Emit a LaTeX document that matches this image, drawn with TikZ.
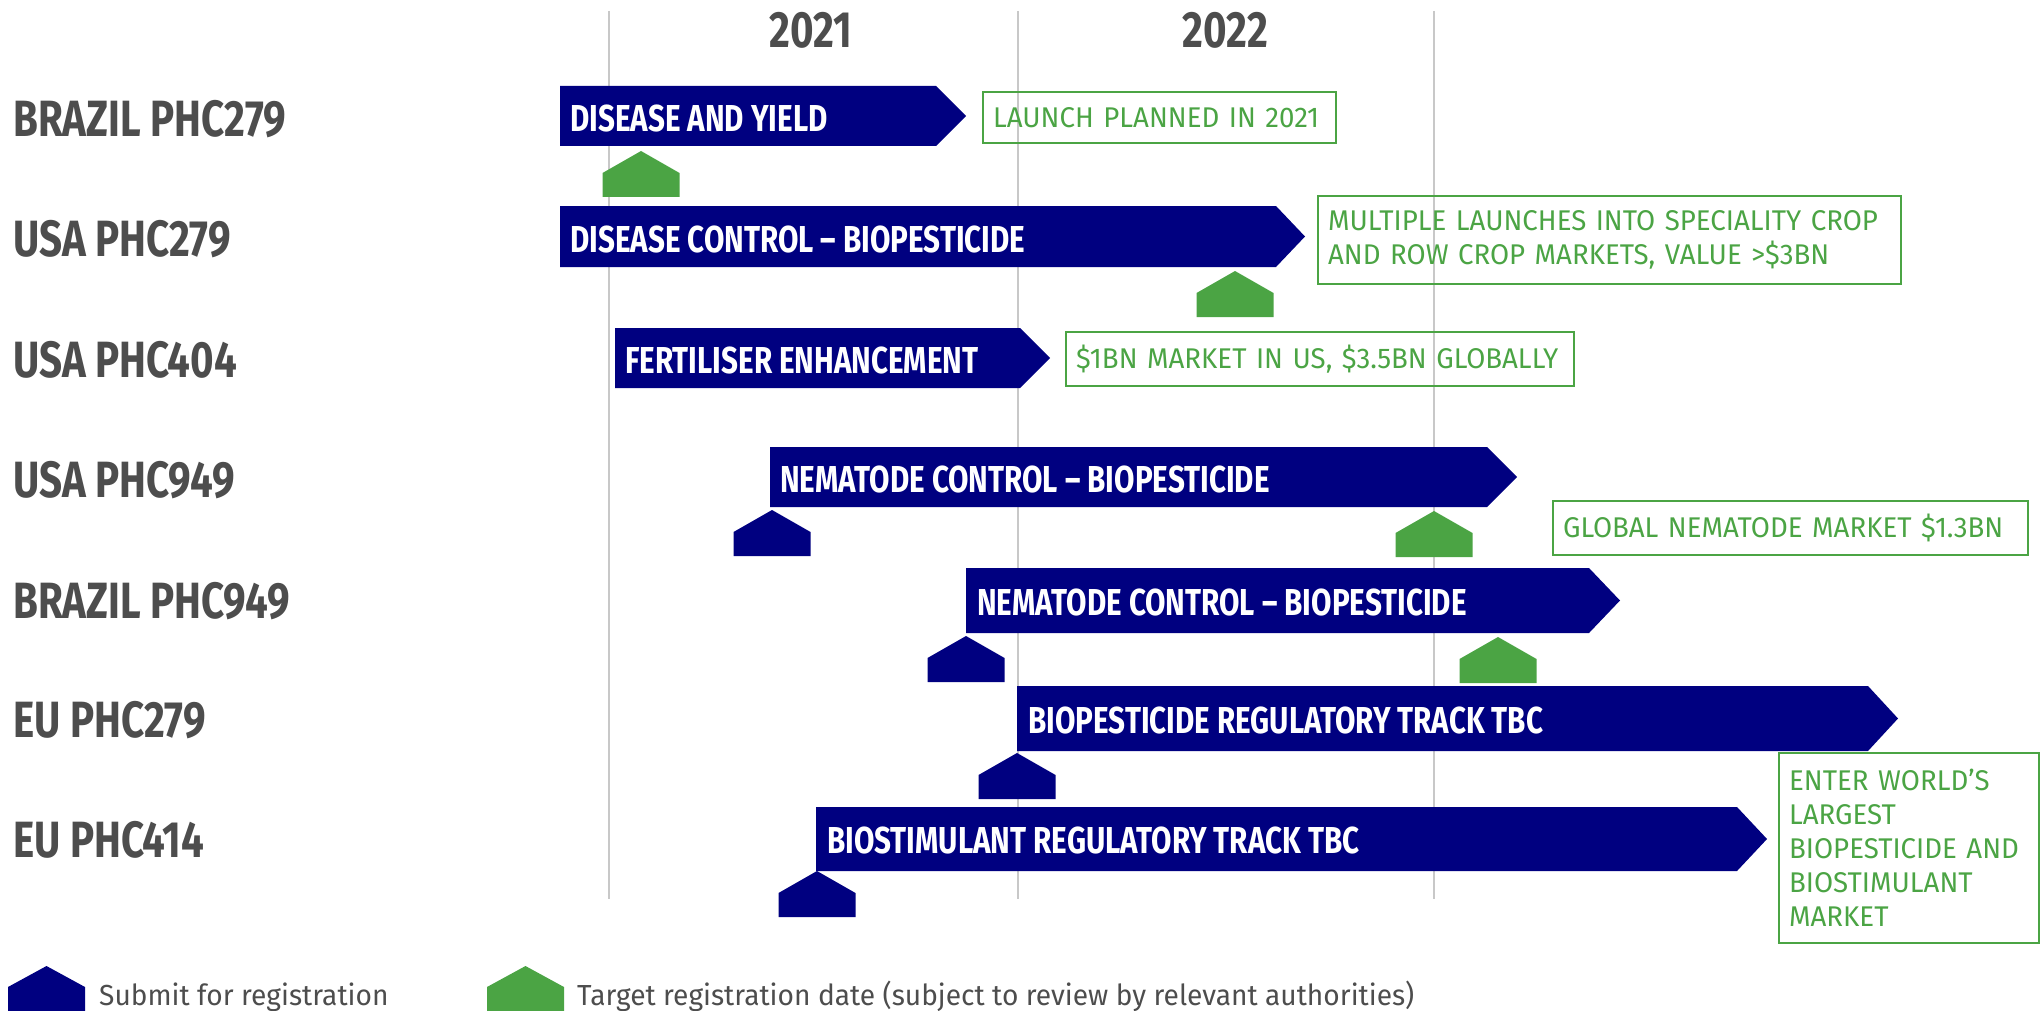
\documentclass[tikz,border=0pt]{standalone}
\usepackage{fontspec}
\setmainfont{Fira Sans}
\newfontfamily\condfont{Fira Sans}[FakeStretch=0.79]
\newfontfamily\notefont{Fira Sans}[FakeStretch=0.97]
\usepackage{xcolor}
\usepackage{tikz}

\definecolor{navyblue}{RGB}{0,0,128}
\definecolor{markgreen}{HTML}{4BA444}
\definecolor{labelgray}{HTML}{4D4D4D}
\definecolor{gridgray}{HTML}{C8C8C8}

\tikzset{
  rowlabel/.style={anchor=base west, inner sep=0pt, text=labelgray, font=\condfont\bfseries\fontsize{51}{51}\selectfont},
  yearlabel/.style={anchor=base, inner sep=0pt, text=labelgray, font=\condfont\bfseries\fontsize{51}{51}\selectfont},
  bartext/.style={anchor=base west, inner sep=0pt, text=white, font=\condfont\bfseries\fontsize{37.5}{37.5}\selectfont},
  infobox/.style={draw=markgreen, line width=2.2pt, text=markgreen, anchor=north west, inner xsep=10pt, inner ysep=0pt, align=left, font=\notefont\fontsize{28.5}{34}\selectfont},
  legendtext/.style={anchor=base west, inner sep=0pt, text=labelgray, font=\notefont\fontsize{29}{29}\selectfont},
  gridline/.style={gridgray, line width=1.2pt},
  submitmark/.style={fill=navyblue},
  targetmark/.style={fill=markgreen}
}

\begin{document}
\begin{tikzpicture}[x=1pt,y=-1pt]
		\useasboundingbox (0,0) rectangle (2044,1011);
		
		% year columns
		\draw[gridline] (609,11) -- (609,899);
		\draw[gridline] (1018,11) -- (1018,899);
		\draw[gridline] (1434,11) -- (1434,899);
		\node[yearlabel] (y2021) at (811,48) {2021};
		\node[yearlabel] (y2022) at (1225,48) {2022};
		
		% rows
		\node[rowlabel] (brazil279) at (13,137) {BRAZIL PHC279};
		\node[rowlabel] (usa279) at (13,256) {USA PHC279};
		\node[rowlabel] (usa404) at (13,377) {USA PHC404};
		\node[rowlabel] (usa949) at (13,497) {USA PHC949};
		\node[rowlabel] (brazil949) at (13,618) {BRAZIL PHC949};
		\node[rowlabel] (eu279) at (13,737) {EU PHC279};
		\node[rowlabel] (eu414) at (13,857) {EU PHC414};
		
		% bars
		\fill[navyblue] (560,86) -- (936,86) -- (966,116) -- (936,146) -- (560,146) -- cycle;
		\node[bartext] (bar1) at (570,132) {DISEASE AND YIELD};
		\fill[navyblue] (560,206) -- (1276,206) -- (1305,236.5) -- (1276,267) -- (560,267) -- cycle;
		\node[bartext] (bar2) at (570,252) {DISEASE CONTROL – BIOPESTICIDE};
		\fill[navyblue] (615,328) -- (1020,328) -- (1050,358) -- (1020,388) -- (615,388) -- cycle;
		\node[bartext] (bar3) at (625,373) {FERTILISER ENHANCEMENT};
		\fill[navyblue] (770,447) -- (1487,447) -- (1517,477) -- (1487,507) -- (770,507) -- cycle;
		\node[bartext] (bar4) at (780,492) {NEMATODE CONTROL – BIOPESTICIDE};
		\fill[navyblue] (966,568) -- (1589,568) -- (1620,600.5) -- (1589,633) -- (966,633) -- cycle;
		\node[bartext] (bar5) at (977,615) {NEMATODE CONTROL – BIOPESTICIDE};
		\fill[navyblue] (1017,686) -- (1868,686) -- (1898,718.5) -- (1868,751) -- (1017,751) -- cycle;
		\node[bartext] (bar6) at (1028,733) {BIOPESTICIDE REGULATORY TRACK TBC};
		\fill[navyblue] (816,807) -- (1737,807) -- (1767,839) -- (1737,871) -- (816,871) -- cycle;
		\node[bartext] (bar7) at (827,853) {BIOSTIMULANT REGULATORY TRACK TBC};
		
		% submit / target markers
		\fill[targetmark] (641,151) -- ++(38.5,22) -- ++(0,24) -- ++(-77,0) -- ++(0,-24) -- cycle;
		\fill[targetmark] (1235,271) -- ++(38.5,22) -- ++(0,24) -- ++(-77,0) -- ++(0,-24) -- cycle;
		\fill[submitmark] (772,510) -- ++(38.5,22) -- ++(0,24) -- ++(-77,0) -- ++(0,-24) -- cycle;
		\fill[targetmark] (1434,511) -- ++(38.5,22) -- ++(0,24) -- ++(-77,0) -- ++(0,-24) -- cycle;
		\fill[submitmark] (966,636) -- ++(38.5,22) -- ++(0,24) -- ++(-77,0) -- ++(0,-24) -- cycle;
		\fill[targetmark] (1498,637) -- ++(38.5,22) -- ++(0,24) -- ++(-77,0) -- ++(0,-24) -- cycle;
		\fill[submitmark] (1017,753) -- ++(38.5,22) -- ++(0,24) -- ++(-77,0) -- ++(0,-24) -- cycle;
		\fill[submitmark] (817,871) -- ++(38.5,22) -- ++(0,24) -- ++(-77,0) -- ++(0,-24) -- cycle;
		
		% market notes
		\node[infobox, text width=333pt, minimum height=51pt] (note1) at (982,91) {LAUNCH PLANNED IN 2021};
		\node[infobox, text width=563pt, minimum height=88pt] (note2) at (1317,195) {MULTIPLE LAUNCHES INTO SPECIALITY CROP\\AND ROW CROP MARKETS, VALUE >\$3BN};
		\node[infobox, text width=488pt, minimum height=54pt] (note3) at (1065,331) {\$1BN MARKET IN US, \$3.5BN GLOBALLY};
		\node[infobox, text width=455pt, minimum height=54pt] (note4) at (1552,500) {GLOBAL NEMATODE MARKET \$1.3BN};
		\node[infobox, text width=240pt, minimum height=190pt] (note5) at (1778,752) {ENTER WORLD’S\\LARGEST\\BIOPESTICIDE AND\\BIOSTIMULANT\\MARKET};
		
		% legend
		\fill[submitmark] (46.5,966) -- ++(38.5,21) -- ++(0,24) -- ++(-77,0) -- ++(0,-24) -- cycle;
		\node[legendtext] (submitkey) at (99,1005) {Submit for registration};
		\fill[targetmark] (525.5,966) -- ++(38.5,21) -- ++(0,24) -- ++(-77,0) -- ++(0,-24) -- cycle;
		\node[legendtext] (targetkey) at (577,1005) {Target registration date (subject to review by relevant authorities)};
		
\end{tikzpicture}
\end{document}
